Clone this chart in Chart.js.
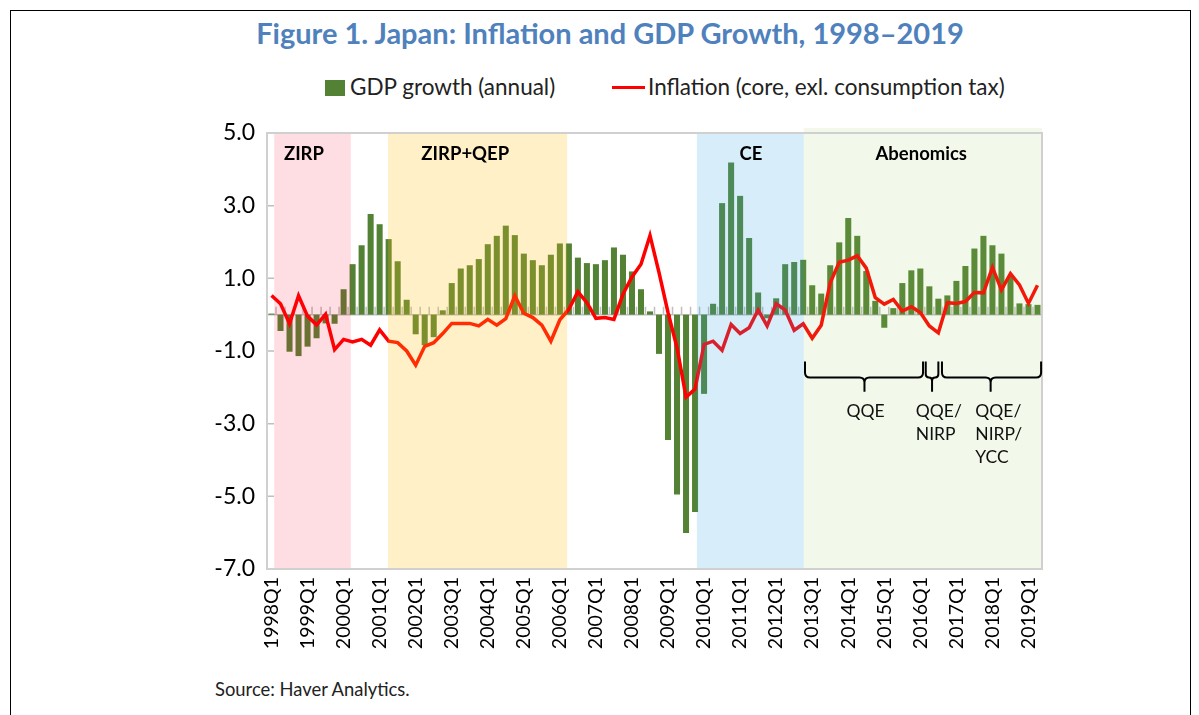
<!DOCTYPE html>
<html>
<head>
<meta charset="utf-8">
<script src="https://cdn.jsdelivr.net/npm/chart.js@4.4.1/dist/chart.umd.min.js"></script>
<style>
  body { margin: 0; background: #fff; font-family: Lato, "Open Sans", sans-serif; }
  #wrap { position: relative; width: 1199px; height: 715px; overflow: hidden; }
  #frame { position: absolute; left: 10px; top: 10px; width: 1179px; height: 720px;
           border-left: 1.5px solid #000; border-right: 1.5px solid #000; border-top: 1.5px solid #000; }
  #title { position: absolute; left: 0; width: 1220px; top: 15px; text-align: center;
           font-weight: bold; font-size: 29px; color: #4f81bd; }
  .leg { position: absolute; top: 73px; font-size: 22.5px; color: #222; white-space: nowrap; }
  #source { position: absolute; left: 215px; top: 678px; font-size: 18.4px; color: #222; }
  canvas { position: absolute; left: 0; top: 0; }
</style>
</head>
<body>
<div id="wrap">
  <div id="frame"></div>
  <div id="title">Figure 1. Japan: Inflation and GDP Growth, 1998–2019</div>
  <div class="leg" style="left:325px"><span style="display:inline-block;width:20px;height:16px;background:#548235;vertical-align:-1px;margin-right:5px"></span>GDP growth (annual)</div>
  <div class="leg" style="left:612px"><span style="display:inline-block;width:33px;height:3px;background:#ff0000;vertical-align:6px;margin-right:3px"></span>Inflation (core, exl. consumption tax)</div>
  <div id="source">Source: Haver Analytics.</div>
  <canvas id="myChart" width="1199" height="715"></canvas>
</div>
<script>
// quarters 1998Q1 .. 2019Q2
var quarters = [];
for (let yr = 1998; yr <= 2019; yr++) {
    for (let q = 1; q <= 4; q++) {
        if (yr === 2019 && q > 2) break;
        quarters.push(yr + 'Q' + q);
    }
}
var tickLabels = ['1998Q1', '1999Q1', '2000Q1', '2001Q1', '2002Q1', '2003Q1', '2004Q1', '2005Q1',
    '2006Q1', '2007Q1', '2008Q1', '2009Q1', '2010Q1', '2011Q1', '2012Q1', '2013Q1', '2014Q1',
    '2015Q1', '2016Q1', '2017Q1', '2018Q1', '2019Q1'];

var gdp = [0.03, -0.45, -1.02, -1.14, -0.88, -0.65, -0.24, -0.25,
    0.70, 1.39, 1.91, 2.77, 2.49, 2.08, 1.47, 0.41,
    -0.54, -0.84, -0.62, 0.12, 0.87, 1.27, 1.36, 1.53,
    1.94, 2.17, 2.45, 2.19, 1.68, 1.50, 1.36, 1.65,
    1.96, 1.96, 1.57, 1.42, 1.39, 1.50, 1.85, 1.65,
    1.19, 0.70, 0.09, -1.08, -3.45, -4.95, -6.01, -5.43,
    -2.18, 0.30, 3.07, 4.19, 3.27, 2.11, 0.61, -0.10,
    0.45, 1.39, 1.45, 1.51, 0.81, 0.58, 1.36, 1.99,
    2.66, 2.17, 1.20, 0.38, -0.36, 0.18, 0.87, 1.22,
    1.27, 0.78, 0.44, 0.53, 0.93, 1.34, 1.82, 2.17,
    1.91, 1.68, 1.04, 0.31, 0.29, 0.27];

var inflation = [0.53, 0.30, -0.25, 0.52, -0.04, -0.28, 0.01, -0.96,
    -0.68, -0.75, -0.68, -0.84, -0.42, -0.73, -0.77, -1.00,
    -1.39, -0.87, -0.77, -0.52, -0.24, -0.24, -0.24, -0.31,
    -0.13, -0.29, -0.11, 0.52, 0.04, -0.08, -0.29, -0.73,
    -0.14, 0.15, 0.63, 0.33, -0.10, -0.08, -0.13, 0.56,
    1.04, 1.39, 2.18, 1.16, 0.06, -0.91, -2.27, -2.05,
    -0.82, -0.73, -0.98, -0.27, -0.52, -0.36, 0.13, -0.31,
    0.30, 0.13, -0.43, -0.25, -0.65, -0.29, 0.88, 1.44,
    1.50, 1.62, 1.28, 0.47, 0.29, 0.42, 0.10, 0.22,
    0.06, -0.31, -0.50, 0.33, 0.31, 0.36, 0.61, 0.60,
    1.30, 0.68, 1.13, 0.82, 0.31, 0.81];

// policy periods, in quarter index units
var bandNames = ['ZIRP', 'ZIRP+QEP', 'CE', 'Abenomics'];
var bandFrom = [0.3, 12.93, 47.2, 59.07];
var bandTo = [8.8, 32.8, 59.07, 85.5];
var bandLabelAt = [3.6, 21.5, 53.2, 72.1];
var bandColors = ['rgba(255,0,40,0.13)', 'rgba(255,191,17,0.23)', 'rgba(55,170,230,0.2)', 'rgba(146,208,80,0.12)'];

// Abenomics sub-periods (braces)
var braceFrom = [59.2, 72.6, 74.4];
var braceTo = [72.3, 74.0, 85.4];
var braceTip = [65.8, 73.3, 79.8];
var braceText = [['QQE'], ['QQE/', 'NIRP'], ['QQE/', 'NIRP/', 'YCC']];
var braceTextAt = [63.8, 71.5, 78.1];

Chart.defaults.font.family = 'Lato, "Open Sans", sans-serif';

function brace(ctx, x1, x2, xm, yTop, yMid, yTip) {
    let r = Math.min(5, (x2 - x1) / 4);
    ctx.moveTo(x1, yTop);
    ctx.lineTo(x1, yMid - r);
    ctx.quadraticCurveTo(x1, yMid, x1 + r, yMid);
    ctx.lineTo(xm - r, yMid);
    ctx.quadraticCurveTo(xm, yMid, xm, yMid + r);
    ctx.lineTo(xm, yTip);
    ctx.moveTo(xm, yMid + r);
    ctx.quadraticCurveTo(xm, yMid, xm + r, yMid);
    ctx.lineTo(x2 - r, yMid);
    ctx.quadraticCurveTo(x2, yMid, x2, yMid - r);
    ctx.lineTo(x2, yTop);
}

var overlay = {
    id: 'overlay',
    beforeDatasetsDraw(chart) {
        const ctx = chart.ctx, a = chart.chartArea, x = chart.scales.x, y = chart.scales.y;
        ctx.save();
        ctx.strokeStyle = '#bfbfbf';
        ctx.lineWidth = 1.5;
        const y0 = y.getPixelForValue(0);
        ctx.beginPath();
        ctx.moveTo(a.left, y0);
        ctx.lineTo(a.right, y0);
        for (let i = 0; i <= quarters.length; i++) {
            const px = x.getPixelForValue(i - 0.5);
            ctx.moveTo(px, y0);
            ctx.lineTo(px, y0 - 8);
        }
        y.ticks.forEach(t => {
            const py = y.getPixelForValue(t.value);
            ctx.moveTo(a.left, py);
            ctx.lineTo(a.left + 7, py);
        });
        ctx.stroke();
        ctx.restore();
    },
    afterDatasetsDraw(chart) {
        const ctx = chart.ctx, a = chart.chartArea, x = chart.scales.x, y = chart.scales.y;
        ctx.save();
        // shaded periods, laid over the bars and line
        for (let i = 0; i < bandNames.length; i++) {
            const x1 = x.getPixelForValue(bandFrom[i]);
            const x2 = x.getPixelForValue(bandTo[i]);
            const top = i === 3 ? a.top - 5 : a.top;
            ctx.fillStyle = bandColors[i];
            ctx.fillRect(x1, top, x2 - x1, a.bottom - top);
        }
        // plot frame
        ctx.strokeStyle = '#d0d0d0';
        ctx.lineWidth = 2;
        ctx.strokeRect(a.left, a.top, a.right - a.left, a.bottom - a.top);
        // period names
        ctx.fillStyle = '#000';
        ctx.font = 'bold 18.5px Lato, sans-serif';
        ctx.textAlign = 'center';
        ctx.textBaseline = 'middle';
        for (let i = 0; i < bandNames.length; i++) {
            ctx.fillText(bandNames[i], x.getPixelForValue(bandLabelAt[i]), a.top + 21);
        }
        // braces
        ctx.strokeStyle = '#000';
        ctx.lineWidth = 2;
        ctx.beginPath();
        for (let i = 0; i < braceFrom.length; i++) {
            brace(ctx, x.getPixelForValue(braceFrom[i]), x.getPixelForValue(braceTo[i]),
                x.getPixelForValue(braceTip[i]), y.getPixelForValue(-1.29),
                y.getPixelForValue(-1.73), y.getPixelForValue(-2.12));
        }
        ctx.stroke();
        ctx.font = '17.5px Lato, sans-serif';
        ctx.textAlign = 'left';
        ctx.fillStyle = '#111';
        for (let i = 0; i < braceText.length; i++) {
            braceText[i].forEach((t, k) => {
                ctx.fillText(t, x.getPixelForValue(braceTextAt[i]), y.getPixelForValue(-2.65) + k * 23);
            });
        }
        ctx.restore();
    }
};

var ctx = document.getElementById('myChart');
var chart = new Chart(ctx, {
    type: 'bar',
    data: {
        labels: quarters,
        datasets: [
            {
                type: 'line',
                label: 'Inflation (core, exl. consumption tax)',
                data: inflation,
                borderColor: '#ff0000',
                borderWidth: 3.5,
                pointRadius: 0,
                tension: 0,
                fill: false,
                order: 1
            },
            {
                label: 'GDP growth (annual)',
                data: gdp,
                backgroundColor: '#548235',
                barPercentage: 0.67,
                categoryPercentage: 1.0,
                order: 2
            }
        ]
    },
    options: {
        responsive: false,
        animation: false,
        devicePixelRatio: 1,
        layout: { padding: { left: 207, right: 157, top: 133, bottom: 46 } },
        scales: {
            x: {
                afterFit: s => { s.height = 100; },
                grid: { display: false, drawTicks: false },
                border: { display: false },
                ticks: {
                    autoSkip: false,
                    maxRotation: 90,
                    minRotation: 90,
                    padding: 8,
                    color: '#000',
                    font: { size: 19.5 },
                    callback: function (v, i) {
                        const l = quarters[i];
                        return tickLabels.includes(l) ? l : '';
                    }
                }
            },
            y: {
                min: -7,
                max: 5,
                afterFit: s => { s.width = 60; },
                grid: { display: false, drawTicks: false },
                border: { display: false },
                ticks: {
                    stepSize: 2,
                    padding: 12,
                    color: '#000',
                    font: { size: 23 },
                    callback: v => v.toFixed(1)
                }
            }
        },
        plugins: {
            legend: { display: false },
            title: { display: false },
            tooltip: { enabled: false }
        }
    },
    plugins: [overlay]
});
</script>
</body>
</html>
